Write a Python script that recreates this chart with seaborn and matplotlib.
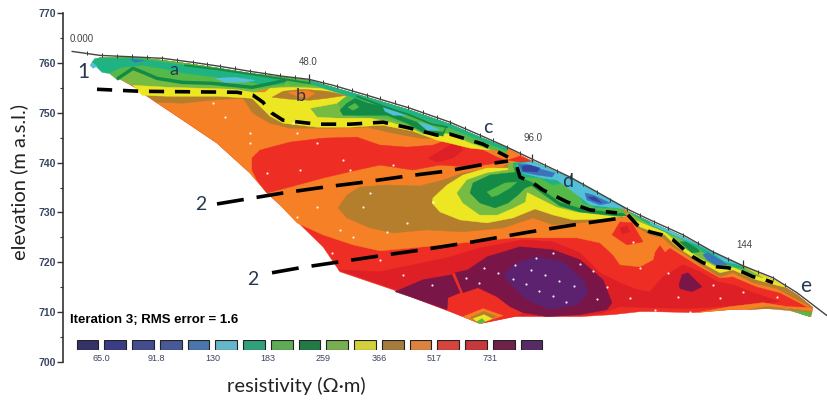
import matplotlib
matplotlib.use('Agg')
import matplotlib.pyplot as plt
import seaborn as sns

# resistivity classes of the colour bar, low to high
BAR_COLOURS = ['#2d2a6e', '#2e3192', '#35429c', '#3a53a4', '#3a75bc', '#54c0d8',
               '#1fb384', '#55b947', '#138a45', '#76bc43', '#ede723', '#b57e2c',
               '#f58025', '#ee2e24', '#de2026', '#7a1547', '#5c2270']
BAR_LABELS = ['65.0', '91.8', '130', '183', '259', '366', '517', '731']
ELEV_TICKS = [700, 710, 720, 730, 740, 750, 760, 770]

# section outline (position along profile, elevation m)
SECTION_TOP = [(92, 760.1), (100, 761.1), (133, 761.1), (163, 760.5), (193, 759.7), (220, 758.9),
               (250, 757.9), (283, 757.1), (309, 756.5), (333, 755.1), (367, 753.1), (410, 750.5),
               (450, 747.7), (480, 745.1), (507, 742.9), (532, 740.3), (570, 736.9), (597, 733.9),
               (627, 730.3), (650, 728.1), (683, 725.1), (713, 721.9), (743, 719.1), (773, 716.5),
               (797, 713.5), (813, 710.9)]
SECTION_BOTTOM = [(810, 709.1), (787, 710.9), (767, 710.7), (730, 710.5), (693, 709.9), (653, 710.1),
                  (640, 710.1), (613, 709.5), (580, 709.1), (547, 709.1), (513, 709.1), (480, 707.7),
                  (463, 709.1), (413, 712.9), (393, 714.5), (340, 718.1), (323, 723.1), (280, 731.5),
                  (267, 733.9), (250, 737.9), (217, 743.9), (183, 748.5), (153, 752.5), (140, 754.5),
                  (117, 757.1)]
LEFT_EDGE = [(267, 733.9), (250, 737.9), (217, 743.9), (183, 748.5), (153, 752.5), (140, 754.5),
             (117, 757.1)]

# contour zones
ORANGE_LOWER = [(807, 711.1), (780, 713.9), (757, 715.1), (733, 717.1), (720, 716.9), (700, 719.1),
                (670, 722.9), (665, 722.1), (660, 723.5), (655, 722.1), (653, 720.5), (640, 719.1),
                (620, 719.5), (613, 721.5), (600, 723.9), (577, 724.9), (540, 724.9), (513, 724.9),
                (463, 723.9), (413, 722.9), (380, 722.3), (353, 723.5), (323, 725.5), (297, 727.9),
                (280, 731.5)]
UPPER_RED = [(252, 740.9), (260, 742.5), (290, 744.1), (323, 744.9), (357, 745.1), (380, 743.5),
             (407, 743.1), (433, 743.5), (452, 744.9), (463, 743.5), (477, 743.1), (497, 741.1),
             (508, 740.3), (497, 739.9), (470, 739.1), (440, 739.5), (413, 738.5), (380, 739.5),
             (357, 738.5), (323, 736.9), (290, 735.1), (267, 733.9), (257, 736.5), (252, 738.5)]
UPPER_RED_CORE = [(428, 740.9), (447, 743.1), (457, 744.5), (463, 742.5), (453, 740.9), (437, 740.1)]
PINCH_RED = [(508, 740.5), (520, 741.3), (531, 740.3), (520, 740.1)]
BROWN_MID = [(338, 730.9), (347, 733.5), (360, 735.1), (387, 735.5), (420, 735.3), (443, 736.5),
             (463, 737.9), (480, 738.5), (503, 739.1), (509, 739.9), (532, 740.3), (597, 733.9),
             (623, 729.1), (580, 727.9), (553, 727.5), (533, 728.9), (503, 726.9), (463, 726.1),
             (427, 726.5), (393, 725.9), (370, 726.9), (347, 728.9)]
YELLOW_MID = [(509, 738.9), (487, 738.9), (463, 737.5), (447, 735.5), (433, 732.9), (432, 731.9),
              (440, 730.1), (460, 728.5), (487, 727.9), (513, 728.9), (535, 730.7), (553, 729.5),
              (573, 728.5), (603, 728.7), (627, 729.3), (597, 733.9), (532, 740.3), (509, 739.9)]
LIGHT_GREEN_MID = [(508, 738.5), (487, 737.9), (467, 736.5), (457, 733.9), (463, 731.9), (480, 729.5),
                   (497, 729.5), (513, 730.9), (525, 732.1), (527, 734.1), (543, 732.5), (557, 731.1),
                   (577, 730.1), (603, 729.5), (623, 729.1), (597, 733.9), (532, 740.3), (509, 739.9)]
DARK_GREEN_MID = [(508, 737.9), (490, 737.5), (473, 735.9), (470, 733.9), (480, 731.9), (495, 730.9),
                  (508, 731.9), (518, 733.5), (525, 734.9), (533, 735.5), (518, 738.1)]
GREEN_PATCH = [(487, 734.1), (497, 735.1), (505, 735.9), (517, 736.1), (510, 734.9), (498, 733.5),
               (492, 733.1)]
D_DARK = [(513, 739.5), (518, 736.5), (532, 735.3), (543, 733.7), (560, 731.3), (580, 730.1),
          (617, 729.3), (627, 729.3), (597, 733.9), (532, 740.3)]
D_GREEN = [(513, 739.5), (520, 737.1), (532, 736.1), (543, 734.5), (560, 732.1), (580, 730.9),
           (617, 729.9), (627, 729.9), (597, 733.9), (532, 740.3)]
D_TEAL = [(513, 739.9), (523, 737.1), (540, 736.9), (553, 735.5), (562, 735.9), (577, 734.5),
          (583, 731.9), (597, 730.9), (620, 730.9), (630, 730.5), (597, 733.9), (570, 736.9), (532, 740.3)]
D_CYAN = [(517, 739.5), (523, 737.9), (542, 736.9), (557, 736.5), (580, 733.1), (590, 731.5),
          (607, 731.1), (627, 730.7), (597, 733.9), (570, 736.9), (532, 740.3)]
D_BLUE_A = [(518, 739.7), (522, 738.1), (537, 737.5), (552, 737.1), (555, 737.9), (537, 738.9), (527, 739.7)]
D_BLUE_B = [(585, 733.9), (587, 732.5), (600, 731.5), (610, 731.9), (593, 733.5)]
D_NAVY_A = [(522, 739.3), (523, 738.3), (537, 738.1), (540, 738.9), (530, 739.5)]
D_NAVY_B = [(588, 733.1), (592, 732.5), (602, 731.9), (595, 733.1)]

BROWN_UP = [(142, 753.9), (168, 753.9), (218, 753.9), (252, 753.5), (262, 751.5), (270, 749.9),
            (283, 748.5), (317, 747.7), (350, 747.7), (383, 748.3), (413, 747.1), (437, 745.1),
            (450, 745.5), (470, 743.9), (490, 742.5), (470, 743.1), (450, 744.7), (420, 744.9),
            (393, 745.9), (367, 747.1), (330, 746.9), (290, 746.9), (270, 747.9), (253, 749.9),
            (243, 752.9), (210, 752.5), (183, 751.9), (157, 752.1)]
YELLOW_UP = [(133, 755.5), (168, 755.1), (202, 754.9), (235, 754.7), (252, 754.1), (265, 754.1),
             (270, 754.9), (290, 755.1), (320, 754.9), (348, 753.7), (337, 751.9), (310, 750.9),
             (317, 749.1), (337, 748.9), (370, 748.9), (390, 748.1), (410, 746.9), (423, 745.7),
             (447, 745.9), (470, 743.9), (490, 742.5), (470, 742.9), (437, 744.5), (413, 746.3),
             (383, 747.5), (350, 747.1), (317, 747.1), (283, 747.9), (270, 749.3), (262, 750.9),
             (252, 752.9), (218, 753.3), (168, 753.3), (142, 753.5)]
BROWN_B = [(272, 753.1), (283, 754.3), (303, 754.7), (327, 754.3), (347, 753.5), (327, 752.9),
           (310, 752.5), (290, 752.7)]
ORANGE_B = [(288, 754.1), (307, 754.5), (315, 753.9), (307, 752.9), (295, 753.5)]
BAND_LOWER = [(490, 742.5), (470, 743.9), (447, 745.9), (423, 745.7), (410, 746.9), (390, 748.1),
              (370, 748.9), (337, 748.9), (317, 749.1), (310, 750.9), (337, 751.9), (348, 753.7),
              (320, 754.9), (290, 755.1), (270, 754.9), (252, 754.1), (235, 754.7), (202, 754.9),
              (168, 755.1), (133, 755.5), (117, 757.1)]
MED_LEFT = [(100, 760.5), (100, 761.1), (133, 761.1), (163, 760.5), (193, 759.7), (220, 758.9),
            (250, 757.9), (283, 757.1), (285, 755.5), (252, 754.7), (212, 755.5), (182, 755.7),
            (157, 756.5), (143, 757.7), (133, 758.5), (118, 756.5), (108, 758.1)]
MED_MID = [(283, 757.1), (309, 756.5), (333, 755.1), (367, 753.1), (410, 750.5), (450, 747.7),
           (480, 745.1), (507, 742.9), (507, 741.9), (495, 742.5), (470, 744.5), (450, 745.9),
           (423, 745.9), (407, 747.7), (387, 748.9), (367, 749.1), (350, 749.5), (340, 750.9),
           (338, 751.9), (350, 753.7), (320, 755.5), (290, 755.5)]
TEAL_LEFT = [(92, 760.1), (95, 760.9), (135, 760.9), (185, 759.5), (235, 758.1), (285, 756.5),
             (285, 755.9), (268, 755.5), (245, 756.3), (218, 757.1), (185, 757.9), (162, 758.9),
             (142, 759.5), (122, 759.1), (108, 757.9), (102, 758.1)]
CYAN_LEFT = [(215, 756.9), (235, 757.1), (255, 756.5), (245, 756.1), (225, 756.1)]
CYAN_TIP = [(92, 760.1), (97, 759.3), (93, 758.9), (90, 759.5)]
BLUE_TOP = [(130, 760.7), (145, 760.5), (135, 760.1)]
DARK_MID = [(340, 750.5), (347, 751.9), (355, 752.9), (368, 751.9), (387, 751.1), (403, 749.1),
            (417, 748.1), (427, 746.5), (443, 746.1), (447, 747.5), (443, 745.3), (425, 745.9),
            (407, 747.9), (387, 749.5), (363, 749.5), (343, 749.5)]
DARK_MID_CORE = [(348, 751.1), (355, 751.9), (359, 751.1), (353, 750.5)]
CYAN_MID_A = [(383, 751.1), (393, 750.5), (407, 749.5), (393, 749.5), (385, 750.3)]
CYAN_MID_B = [(418, 748.1), (430, 747.5), (440, 746.5), (427, 746.5)]
TEAL_STRIP = [(309, 756.5), (333, 755.1), (367, 753.1), (410, 750.5), (450, 747.7), (480, 745.1),
              (507, 742.9), (507, 742.3), (480, 744.5), (450, 746.9), (410, 749.7), (367, 752.3),
              (333, 754.3), (309, 755.9)]

RIGHT_BROWN_LOWER = [(637, 727.1), (650, 725.5), (663, 724.9), (673, 723.1), (683, 721.9), (700, 719.5),
                     (720, 717.1), (733, 717.9), (753, 715.9), (777, 714.7), (797, 712.5), (812, 710.9)]
RIGHT_YELLOW_LOWER = [(640, 727.1), (653, 726.1), (665, 725.5), (675, 723.5), (683, 722.3), (700, 720.1),
                      (720, 717.9), (733, 718.5), (753, 716.7), (775, 715.5), (787, 714.9)]
RIGHT_GREEN_LOWER = [(635, 728.5), (665, 726.1), (677, 724.1), (687, 722.5), (700, 720.9), (718, 718.9),
                     (732, 719.1), (752, 717.5), (763, 716.9)]
RIGHT_DARK = [(680, 724.1), (692, 724.1), (700, 722.1), (692, 721.9)]
RIGHT_TEAL = [(627, 730.3), (650, 728.1), (683, 725.1), (713, 721.9), (743, 719.1), (745, 718.5),
              (727, 719.5), (715, 720.1), (700, 722.5), (683, 724.5), (650, 727.5)]
RIGHT_CYAN = [(650, 728.1), (683, 725.1), (713, 721.9), (740, 719.5), (725, 720.1), (705, 722.9),
              (680, 724.9), (650, 727.7)]
RIGHT_BLUE = [(703, 721.5), (708, 721.9), (720, 720.5), (727, 719.5), (715, 719.5), (707, 720.5)]

DARK_RED_LOW = [(338, 718.5), (380, 718.1), (413, 719.5), (447, 720.9), (480, 722.9), (523, 724.5),
                (553, 724.1), (580, 721.9), (600, 717.9), (620, 715.9), (637, 714.5), (650, 714.1),
                (663, 717.1), (683, 719.5), (700, 718.1), (717, 716.1), (733, 715.5), (753, 713.9),
                (780, 712.1), (753, 711.5), (720, 711.1), (687, 710.7), (653, 710.9), (620, 711.1),
                (600, 709.7), (580, 709.3), (513, 709.3), (480, 707.9), (463, 709.3), (413, 713.1),
                (393, 714.7)]
MAROON_RIGHT = [(455, 717.9), (468, 718.5), (487, 721.1), (520, 723.1), (553, 722.5), (580, 720.5),
                (603, 716.5), (612, 711.9), (607, 710.5), (580, 709.5), (547, 709.1), (523, 709.9),
                (510, 711.1), (497, 713.1), (478, 714.9), (463, 713.9)]
MAROON_LEFT = [(395, 714.1), (423, 716.5), (452, 717.5), (460, 713.9), (448, 712.9), (447, 710.5), (413, 712.9)]
PURPLE_CORE = [(503, 717.5), (517, 719.9), (537, 721.1), (563, 720.1), (583, 716.5), (588, 713.9),
               (577, 711.5), (550, 710.5), (527, 712.5), (513, 715.1)]
PURPLE_SMALL = [(679, 715.5), (682, 717.5), (688, 717.9), (702, 715.1), (692, 714.1), (680, 714.7)]
RED_BUMP = [(452, 717.5), (456, 717.9), (464, 713.9), (478, 714.9), (497, 713.1), (510, 711.1),
            (523, 709.9), (515, 709.1), (480, 707.7), (463, 709.1), (447, 710.5), (448, 712.9), (460, 713.9)]
RING_ORANGE = [(463, 709.1), (483, 710.7), (503, 709.3), (480, 707.7)]
RING_BROWN = [(470, 708.9), (484, 710.1), (497, 709.1), (480, 707.7)]
RING_YELLOW = [(473, 708.7), (484, 709.5), (492, 708.7), (480, 707.7)]
RING_GREEN = [(477, 708.1), (482, 708.7), (485, 708.1), (480, 707.7)]
RED_BLOB = [(612, 725.5), (620, 728.1), (632, 727.9), (643, 724.1), (627, 723.5)]
RED_BLOB_CORE = [(620, 726.9), (627, 727.3), (630, 726.1), (622, 725.7)]
ORANGE_TAIL = [(697, 709.9), (730, 711.1), (763, 711.9), (787, 711.1), (813, 710.9), (811, 709.1),
               (787, 710.9), (767, 710.7), (730, 710.5)]
BROWN_TAIL = [(747, 710.5), (767, 711.1), (790, 710.7), (812, 710.1), (810, 709.1), (790, 710.3), (767, 710.7)]
GREEN_TAIL = [(793, 710.3), (812, 709.9), (810, 709.1), (803, 709.5)]

# thin contour ridges
ZIGZAG_X = [118, 133, 143, 157, 182, 212, 252, 272, 285]
ZIGZAG_Y = [756.9, 758.9, 758.1, 756.9, 756.1, 755.9, 755.1, 755.9, 756.5]
RIDGE_TOP_X = [185, 218, 252, 285, 310]
RIDGE_TOP_Y = [759.5, 758.7, 757.7, 756.7, 755.9]
RIDGE_MID_X = [357, 383, 410, 432, 447]
RIDGE_MID_Y = [753.3, 751.3, 749.5, 747.7, 747.1]

# ground surface and electrodes
SURFACE_X = [72, 100, 133, 163, 193, 220, 250, 283, 309, 333, 367, 410, 450, 480, 507, 532, 570,
             597, 627, 650, 683, 713, 743, 773, 797, 827]
SURFACE_Y = [762.3, 761.5, 761.2, 760.9, 760.1, 759.3, 758.3, 757.3, 756.7, 755.5, 753.5, 750.9,
             748.1, 745.5, 743.1, 740.7, 737.1, 734.1, 730.7, 728.5, 725.5, 722.1, 719.3, 716.9,
             713.9, 709.3]
ELECTRODE_X = [87, 102, 117, 132, 147, 162, 177, 193, 207, 220, 235, 250, 265, 280, 295, 323, 337,
               352, 367, 380, 395, 408, 423, 437, 450, 465, 480, 493, 507, 520, 545, 557, 570, 583,
               597, 610, 627, 640, 654, 668, 683, 698, 713, 728, 758, 773, 785]
ELECTRODE_Y = [761.9, 761.5, 761.3, 761.3, 761.1, 760.9, 760.5, 760.1, 759.7, 759.3, 758.9, 758.3,
               757.9, 757.5, 757.1, 756.1, 755.3, 754.5, 753.5, 752.9, 752.1, 751.1, 750.1, 749.1,
               748.1, 746.9, 745.5, 744.5, 743.1, 741.9, 739.5, 738.3, 737.1, 735.7, 734.1, 732.5,
               730.7, 729.5, 728.1, 726.9, 725.5, 723.9, 722.1, 720.7, 718.1, 716.9, 715.5]
STATION_X = [309, 532, 743]
STATION_Y = [757.0, 741.0, 719.6]

# model mesh points visible as white dots
MESH_X = [403, 432, 466, 479, 484, 498, 513, 526, 539, 553, 566, 515, 531, 545, 559, 574, 536, 553,
          580, 593, 607, 597, 363, 407, 387, 370, 433, 317, 297, 340, 353, 332, 380, 267, 300, 343,
          393, 297, 250, 213, 225, 250, 293, 317, 350, 633, 668, 713, 743, 720, 678, 640, 630, 655,
          690, 777]
MESH_Y = [717.5, 715.5, 716.9, 715.9, 718.9, 717.9, 716.7, 715.7, 714.3, 713.3, 712.1, 719.5, 718.5,
          717.5, 716.3, 715.3, 720.9, 721.9, 719.7, 718.3, 715.1, 712.7, 731.1, 727.9, 726.1, 733.9,
          732.1, 731.1, 729.1, 726.5, 725.1, 721.9, 720.5, 737.9, 738.5, 740.5, 739.5, 745.9, 743.9,
          751.9, 749.1, 745.9, 747.9, 743.9, 738.5, 724.1, 717.9, 715.5, 714.1, 712.9, 713.1, 718.9,
          712.9, 710.5, 710.1, 713.1]

# interpreted boundaries
BOUNDARY_1A_X = [97, 140, 237, 253, 263, 272, 283, 317, 350, 383, 410, 437, 450, 483, 508]
BOUNDARY_1A_Y = [754.7, 754.3, 754.1, 753.5, 752.1, 749.9, 748.5, 747.7, 747.7, 748.1, 746.9, 745.5,
                 745.7, 743.7, 741.1]
BOUNDARY_1B_X = [517, 520, 533, 543, 567, 590, 617]
BOUNDARY_1B_Y = [739.1, 737.1, 735.9, 734.5, 732.1, 730.5, 729.9]
BOUNDARY_1C_X = [628, 637, 650, 662, 673, 682, 693, 703, 717, 728, 742, 753, 765, 773]
BOUNDARY_1C_Y = [729.5, 727.5, 726.1, 725.5, 724.5, 722.9, 721.1, 719.9, 719.1, 718.9, 718.1, 717.1,
                 716.5, 715.9]
BOUNDARY_2A_X = [217, 283, 325, 365, 407, 447, 480, 508]
BOUNDARY_2A_Y = [731.7, 733.9, 735.1, 736.1, 737.3, 738.3, 739.5, 740.3]
BOUNDARY_2B_X = [272, 300, 340, 380, 422, 473, 530, 580, 622]
BOUNDARY_2B_Y = [717.9, 718.9, 720.1, 721.3, 722.5, 724.1, 726.1, 727.7, 728.9]

BLUE, BLUE2, BLUE3, BLUE4, BLUE5, CYAN, TEAL, GREEN, DARK_GREEN, LIGHT_GREEN, YELLOW, BROWN, ORANGE, \
    RED, DARK_RED, MAROON, PURPLE = BAR_COLOURS[0:17]


def fill_zone(ax, zone, colour):
    xs = [p[0] for p in zone]
    ys = [p[1] for p in zone]
    ax.fill(xs, ys, color=colour, linewidth=0.3, clip_on=False)


def with_top(start, stop, lower):
    # zone hanging from the top of the section down to a lower boundary
    return SECTION_TOP[start:stop] + lower[::-1]


def draw_section(ax):
    zones = [
        (SECTION_TOP + SECTION_BOTTOM, RED),
        (SECTION_TOP[:20] + SECTION_TOP[20:] + ORANGE_LOWER + LEFT_EDGE, ORANGE),
        (DARK_RED_LOW, DARK_RED),
        (RED_BUMP, RED),
        (MAROON_RIGHT, MAROON), (MAROON_LEFT, MAROON),
        (PURPLE_CORE, PURPLE), (PURPLE_SMALL, MAROON),
        (RING_ORANGE, ORANGE), (RING_BROWN, BROWN), (RING_YELLOW, YELLOW), (RING_GREEN, GREEN),
        (RED_BLOB, RED), (RED_BLOB_CORE, DARK_RED),
        (ORANGE_TAIL, ORANGE), (BROWN_TAIL, BROWN), (GREEN_TAIL, GREEN),
        (UPPER_RED, RED), (UPPER_RED_CORE, DARK_RED),
        (BROWN_MID, BROWN), (YELLOW_MID, YELLOW), (LIGHT_GREEN_MID, LIGHT_GREEN),
        (DARK_GREEN_MID, DARK_GREEN), (GREEN_PATCH, GREEN),
        (D_DARK, DARK_GREEN), (D_GREEN, GREEN), (D_TEAL, TEAL), (D_CYAN, CYAN),
        (D_BLUE_A, BLUE5), (D_BLUE_B, BLUE5), (D_NAVY_A, BLUE3), (D_NAVY_B, BLUE3),
        (PINCH_RED, RED),
        (BROWN_UP, BROWN),
        (SECTION_TOP[:15] + BAND_LOWER, LIGHT_GREEN),
        (YELLOW_UP, YELLOW), (BROWN_B, BROWN), (ORANGE_B, ORANGE),
        (MED_LEFT, GREEN), (MED_MID, GREEN), (TEAL_LEFT, TEAL), (CYAN_LEFT, CYAN),
        (CYAN_TIP, CYAN), (BLUE_TOP, BLUE5),
        (DARK_MID, DARK_GREEN), (DARK_MID_CORE, GREEN), (TEAL_STRIP, TEAL),
        (CYAN_MID_A, CYAN), (CYAN_MID_B, CYAN),
        (with_top(18, 26, RIGHT_BROWN_LOWER), BROWN),
        (with_top(18, 24, RIGHT_YELLOW_LOWER), YELLOW),
        (with_top(18, 23, RIGHT_GREEN_LOWER), LIGHT_GREEN),
        (RIGHT_DARK, DARK_GREEN), (RIGHT_TEAL, TEAL), (RIGHT_CYAN, CYAN), (RIGHT_BLUE, BLUE5),
    ]
    for zone, colour in zones:
        fill_zone(ax, zone, colour)

    sns.lineplot(x=ZIGZAG_X, y=ZIGZAG_Y, sort=False, estimator=None, color=DARK_GREEN, lw=2.4, ax=ax)
    sns.lineplot(x=RIDGE_TOP_X, y=RIDGE_TOP_Y, sort=False, estimator=None, color=DARK_GREEN, lw=1.4, ax=ax)
    sns.lineplot(x=RIDGE_MID_X, y=RIDGE_MID_Y, sort=False, estimator=None, color=DARK_GREEN, lw=1.4, ax=ax)
    sns.scatterplot(x=MESH_X, y=MESH_Y, color='white', s=2.5, linewidth=0, alpha=0.9, ax=ax)


def draw_surface(ax):
    sns.lineplot(x=SURFACE_X, y=SURFACE_Y, sort=False, estimator=None, color='#444444', lw=1.0, ax=ax)
    sns.scatterplot(x=ELECTRODE_X, y=ELECTRODE_Y, marker='|', color='#333333', s=12, linewidth=0.7, ax=ax)
    sns.scatterplot(x=STATION_X, y=STATION_Y, marker='|', color='#333333', s=30, linewidth=0.9, ax=ax)


def draw_boundaries(ax):
    runs = [(BOUNDARY_1A_X, BOUNDARY_1A_Y, (0, (4.2, 3.0))),
            (BOUNDARY_1B_X, BOUNDARY_1B_Y, (0, (4.2, 3.0))),
            (BOUNDARY_1C_X, BOUNDARY_1C_Y, (0, (4.2, 3.0))),
            (BOUNDARY_2A_X, BOUNDARY_2A_Y, (0, (7.5, 3.6))),
            (BOUNDARY_2B_X, BOUNDARY_2B_Y, (0, (7.5, 3.6)))]
    for xs, ys, dash in runs:
        line = sns.lineplot(x=xs, y=ys, sort=False, estimator=None, color='black', lw=2.6, ax=ax).lines[-1]
        line.set_linestyle(dash)


def draw_colour_bar(fig):
    cax = fig.add_axes([73.6 / 827, (405 - 349.5) / 405, 471.75 / 827, 9.5 / 405])
    classes = list(range(len(BAR_COLOURS)))
    sns.barplot(x=classes, y=[1] * len(classes), hue=classes, palette=BAR_COLOURS, legend=False,
                width=0.78, edgecolor='#222222', linewidth=0.8, ax=cax)
    cax.set_ylim(0, 1)
    cax.set_xlim(-0.5, 16.5)
    cax.set_yticks([])
    cax.set_ylabel('')
    cax.set_xticks([0.5 + 2 * i for i in range(len(BAR_LABELS))])
    cax.set_xticklabels(BAR_LABELS, fontsize=6.5, color='#3a4560', family='Liberation Sans')
    cax.tick_params(axis='x', length=0, pad=3)
    sns.despine(ax=cax, left=True, bottom=True)


def main():
    sns.set_theme(style='white')
    plt.rcParams['font.family'] = ['Lato', 'DejaVu Sans']
    fig = plt.figure(figsize=(8.27, 4.05), dpi=100)
    ax = fig.add_axes([63.5 / 827, (405 - 362) / 405, (827 - 63.5) / 827, 349 / 405])
    draw_section(ax)
    draw_surface(ax)
    draw_boundaries(ax)
    ax.set_xlim(63.5, 827)
    ax.set_ylim(700, 770)
    ax.set_xticks([])
    ax.set_yticks(ELEV_TICKS)
    ax.set_yticks([t + 5 for t in ELEV_TICKS[:-1]], minor=True)
    ax.set_yticklabels(ELEV_TICKS, fontsize=7.5, color='#3a4560', family='Liberation Sans', weight='bold')
    ax.tick_params(axis='y', which='major', left=True, length=4, width=1, color='#333333', pad=1.5)
    ax.tick_params(axis='y', which='minor', left=True, length=2.5, width=0.8, color='#333333')
    ax.spines['left'].set_color('#333333')
    ax.spines['left'].set_linewidth(1.2)
    sns.despine(ax=ax, bottom=True)
    ax.patch.set_alpha(0)

    for x, y, label in [(82, 764.7, '0.000'), (308, 760.1, '48.0'), (533, 744.9, '96.0'), (744, 723.5, '144')]:
        ax.text(x, y, label, fontsize=7, color='#444444', ha='center', va='center', family='Liberation Sans')
    for x, y, label, size in [(83, 758.1, '1', 15), (174, 758.5, 'a', 13), (301, 753.3, 'b', 13),
                              (488, 747.1, 'c', 14), (568, 736.3, 'd', 14), (806, 715.3, 'e', 15),
                              (201, 731.5, '2', 14), (253, 716.5, '2', 14)]:
        ax.text(x, y, label, fontsize=size, color='#26384f', ha='center', va='center')
    ax.text(70, 708.5, 'Iteration 3; RMS error = 1.6', fontsize=9.5, weight='bold', color='black',
            va='center', family='Liberation Sans')

    draw_colour_bar(fig)
    fig.text(19 / 827, 1 - 182 / 405, 'elevation (m a.s.l.)', rotation=90, fontsize=14.5, color='#222222',
             ha='center', va='center')
    fig.text(296 / 827, 1 - 386 / 405, 'resistivity (Ω·m)', fontsize=14.5, color='#222222',
             ha='center', va='center')
    fig.savefig('out.png', dpi=100)


if __name__ == '__main__':
    main()
